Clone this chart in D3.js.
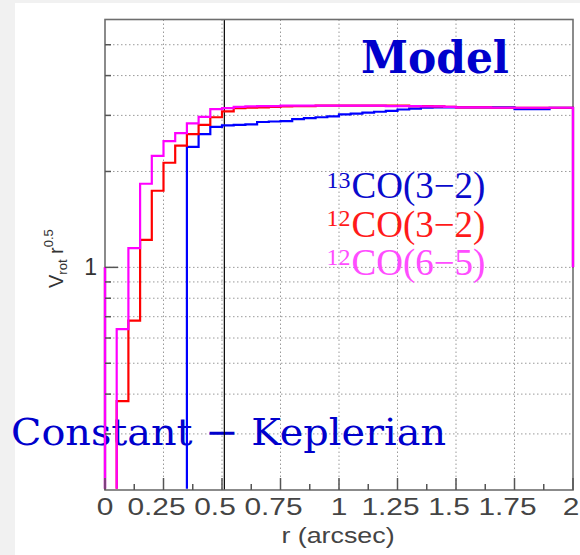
<!DOCTYPE html>
<html>
<head>
<meta charset="utf-8">
<script src="https://cdn.jsdelivr.net/npm/d3@7/dist/d3.min.js"></script>
<style>
  html, body { margin: 0; padding: 0; background: #f1f1f1; }
  svg { display: block; }
</style>
</head>
<body>
<div id="chart"></div>
<script>
// bins of 0.05 arcsec from 0 to 2
const binWidth = 0.05;
const nBins = 40;

// V_rot r^0.5 per bin (values below 0.2 sit under the axis)
const co13_32 = [0.1, 0.1, 0.1, 0.1, 0.1, 0.1, 0.1, 2.39, 2.62, 2.76,
                 2.79, 2.80, 2.81, 2.86, 2.87, 2.88, 2.92, 2.94, 2.96, 2.98,
                 3.02, 3.04, 3.06, 3.08, 3.10, 3.13, 3.15, 3.17, 3.18, 3.18,
                 3.18, 3.18, 3.18, 3.18, 3.18, 3.14, 3.14, 3.14, 3.17, 3.17];
const co12_32 = [0.1, 0.38, 0.68, 1.22, 1.74, 2.13, 2.41, 2.62, 2.80, 2.96,
                 3.09, 3.16, 3.17, 3.18, 3.19, 3.20, 3.21, 3.21, 3.22, 3.22,
                 3.22, 3.22, 3.22, 3.22, 3.22, 3.22, 3.21, 3.21, 3.20, 3.19,
                 3.18, 3.18, 3.18, 3.17, 3.17, 3.17, 3.17, 3.17, 3.17, 3.17];
const co12_65 = [0.1, 0.64, 1.15, 1.83, 2.24, 2.49, 2.64, 2.83, 2.97, 3.14,
                 3.16, 3.19, 3.20, 3.21, 3.21, 3.22, 3.22, 3.22, 3.22, 3.22,
                 3.22, 3.22, 3.22, 3.22, 3.21, 3.21, 3.21, 3.20, 3.20, 3.19,
                 3.18, 3.18, 3.18, 3.17, 3.17, 3.17, 3.17, 3.17, 3.17, 3.17];
const edgeLevel = 1.0; // outline closes to this level at r = 0 and r = 2

const keplerR = 0.51;

const xTicks = [0, 0.25, 0.5, 0.75, 1, 1.25, 1.5, 1.75, 2];
const xTickLabels = ['0', '0.25', '0.5', '0.75', '1', '1.25', '1.5', '1.75', '2'];
const xMinorTicks = [0.125, 0.375, 0.625, 0.875, 1.125, 1.375, 1.625, 1.875];
const yMinorTicks = [0.3, 0.4, 0.5, 0.6, 0.7, 0.8, 0.9, 2, 3, 4, 5];
const yMajorTicks = [1];
const yTickLabels = ['1'];

const series = [
    { iso: '13', name: 'CO(3\u22122)', values: co13_32, line: '#0000ff', text: '#0a0acc' },
    { iso: '12', name: 'CO(3\u22122)', values: co12_32, line: '#ff0000', text: '#ff1a1a' },
    { iso: '12', name: 'CO(6\u22125)', values: co12_65, line: '#ff00ff', text: '#ff4dff' }
];

const W = 580, H = 555;
const frame = { left: 105, top: 19.5, right: 573, bottom: 490 };

const svg = d3.select('#chart').append('svg')
    .attr('width', W)
    .attr('height', H);

// white page area
svg.append('rect')
    .attr('x', 15).attr('y', 3)
    .attr('width', W - 15).attr('height', H - 3)
    .attr('fill', '#ffffff');

svg.append('clipPath').attr('id', 'plot-clip')
    .append('rect')
    .attr('x', frame.left - 2).attr('y', frame.top)
    .attr('width', frame.right - frame.left + 4)
    .attr('height', frame.bottom - frame.top - 1.3);

const x = d3.scaleLinear().domain([0, 2]).range([frame.left, frame.right]);
const y = d3.scaleLog().domain([0.2, 6]).range([frame.bottom, frame.top]).clamp(true);

// Grid (dotted)
const grid = svg.append('g').attr('stroke', '#9a9a9a').attr('stroke-width', 1)
    .attr('stroke-dasharray', '1.5,2.5');
grid.selectAll('.gx')
    .data(xTicks.slice(1, -1))
    .enter().append('line')
    .attr('x1', d => x(d)).attr('x2', d => x(d))
    .attr('y1', frame.top).attr('y2', frame.bottom);
grid.selectAll('.gy')
    .data(yMinorTicks.concat(yMajorTicks))
    .enter().append('line')
    .attr('x1', frame.left).attr('x2', frame.right)
    .attr('y1', d => y(d)).attr('y2', d => y(d));

// Annotation text under the curves
svg.append('text')
    .attr('x', 11).attr('y', 445)
    .attr('font-family', 'DejaVu Serif')
    .attr('font-size', 38)
    .attr('fill', '#0000cc')
    .attr('textLength', 435)
    .attr('lengthAdjust', 'spacingAndGlyphs')
    .text('Constant \u2212 Keplerian');

svg.append('text')
    .attr('x', 361).attr('y', 72.5)
    .attr('font-family', 'DejaVu Serif')
    .attr('font-weight', 'bold')
    .attr('font-size', 45)
    .attr('fill', '#0000cc')
    .attr('textLength', 148)
    .attr('lengthAdjust', 'spacingAndGlyphs')
    .text('Model');

// Legend
const legend = svg.append('g');
series.forEach((s, i) => {
    const base = 198 + i * 38.5;
    legend.append('text')
        .attr('x', 326.5).attr('y', base - 10.5)
        .attr('font-family', 'Liberation Serif')
        .attr('font-size', 24)
        .attr('fill', s.text)
        .text(s.iso);
    legend.append('text')
        .attr('x', 351.5).attr('y', base)
        .attr('font-family', 'Liberation Serif')
        .attr('font-size', 37)
        .attr('fill', s.text)
        .text(s.name);
});

// vertical marker
svg.append('line')
    .attr('x1', x(keplerR)).attr('x2', x(keplerR))
    .attr('y1', frame.top).attr('y2', frame.bottom)
    .attr('stroke', '#000').attr('stroke-width', 1.2);

// Frame
svg.append('rect')
    .attr('x', frame.left).attr('y', frame.top)
    .attr('width', frame.right - frame.left)
    .attr('height', frame.bottom - frame.top)
    .attr('fill', 'none')
    .attr('stroke', '#6e6e6e')
    .attr('stroke-width', 1.6);

// Histogram outlines (drawn over the frame, clipped at the bottom)
const stepLine = d3.line().x(d => x(d[0])).y(d => y(d[1]));
function stepPoints(values) {
    const pts = [[0, edgeLevel]];
    values.forEach((v, i) => {
        pts.push([i * binWidth, v]);
        pts.push([(i + 1) * binWidth, v]);
    });
    pts.push([nBins * binWidth, edgeLevel]);
    return pts;
}
svg.append('g')
    .attr('clip-path', 'url(#plot-clip)')
    .selectAll('.hist')
    .data(series)
    .enter().append('path')
    .attr('class', 'hist')
    .attr('d', d => stepLine(stepPoints(d.values)))
    .attr('fill', 'none')
    .attr('stroke', d => d.line)
    .attr('stroke-width', 2.2);

// Ticks (inside)
const ticks = svg.append('g').attr('stroke', '#555').attr('stroke-width', 1.5);
ticks.selectAll('.tx')
    .data(xTicks)
    .enter().append('line')
    .attr('x1', d => x(d)).attr('x2', d => x(d))
    .attr('y1', frame.bottom).attr('y2', frame.bottom - 12);
ticks.selectAll('.txm')
    .data(xMinorTicks)
    .enter().append('line')
    .attr('x1', d => x(d)).attr('x2', d => x(d))
    .attr('y1', frame.bottom).attr('y2', frame.bottom - 6);
ticks.selectAll('.ty')
    .data(yMajorTicks)
    .enter().append('line')
    .attr('x1', frame.left).attr('x2', frame.left + 13)
    .attr('y1', d => y(d)).attr('y2', d => y(d));
ticks.selectAll('.tym')
    .data(yMinorTicks)
    .enter().append('line')
    .attr('x1', frame.left).attr('x2', frame.left + 6)
    .attr('y1', d => y(d)).attr('y2', d => y(d));

// Tick labels
svg.selectAll('.xl')
    .data(xTicks)
    .enter().append('text')
    .attr('transform', (d, i) => {
        const shift = xTickLabels[i].includes('.') ? -7 : 0;
        const px = Math.min(x(d) + shift, W - 9);
        return `translate(${px},515) scale(1.3,1)`;
    })
    .attr('text-anchor', 'middle')
    .attr('font-family', 'Liberation Sans')
    .attr('font-size', 23)
    .attr('fill', '#444')
    .text((d, i) => xTickLabels[i]);

svg.selectAll('.yl')
    .data(yMajorTicks)
    .enter().append('text')
    .attr('x', 97).attr('y', d => y(d) + 8)
    .attr('text-anchor', 'end')
    .attr('font-family', 'Liberation Sans')
    .attr('font-size', 23)
    .attr('fill', '#333')
    .text((d, i) => yTickLabels[i]);

// Axis titles
svg.append('text')
    .attr('transform', 'translate(338,543) scale(1.22,1)')
    .attr('text-anchor', 'middle')
    .attr('font-family', 'Liberation Sans')
    .attr('font-size', 22)
    .attr('fill', '#444')
    .text('r (arcsec)');

const yTitle = svg.append('text')
    .attr('transform', 'translate(63,288) rotate(-90)')
    .attr('font-family', 'Liberation Sans')
    .attr('font-size', 20)
    .attr('fill', '#333');
yTitle.append('tspan').text('V');
yTitle.append('tspan').attr('font-size', 13).attr('dy', 4).text('rot');
yTitle.append('tspan').attr('dy', -4).text('  r');
yTitle.append('tspan').attr('font-size', 13).attr('dy', -10).text('0.5');
</script>
</body>
</html>
